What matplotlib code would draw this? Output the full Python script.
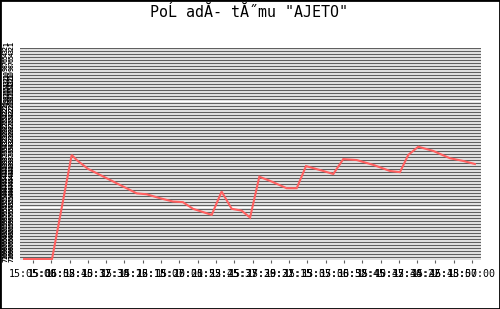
import matplotlib
matplotlib.use("Agg")
import matplotlib.pyplot as plt
from matplotlib.patches import Rectangle
import numpy as np

# data (time of day, rank of team)
TITLE = 'PoĹ adĂ- tĂ˝mu "AJETO"'
times = ["15:04:05", "15:06:57", "15:08:58", "15:09:29", "15:10:38", "15:15:38",
         "15:16:39", "15:18:01", "15:19:21", "15:20:22", "15:21:24", "15:23:19",
         "15:24:20", "15:25:22", "15:26:23", "15:27:15", "15:28:12", "15:29:28",
         "15:31:00", "15:32:02", "15:32:59", "15:34:25", "15:35:47", "15:36:48",
         "15:38:11", "15:39:53", "15:41:35", "15:42:37", "15:43:28", "15:44:30",
         "15:46:02", "15:47:44", "15:49:06", "15:50:18"]
ranks = [70.7, 70.7, 36.3, 38.0, 40.9, 49.0,
         49.3, 50.6, 51.7, 51.9, 54.1, 56.1,
         48.4, 54.1, 54.7, 57.0, 43.5, 45.1,
         47.3, 47.3, 40.0, 41.3, 42.6, 37.7,
         38.0, 39.6, 41.6, 42.0, 36.3, 33.6,
         35.0, 37.4, 38.3, 39.3]
rank_ticks = list(range(1, 72))
x_start, x_end, n_xticks = "15:05:00", "15:50:00", 25


def to_sec(s):
    h, m, sec = (int(v) for v in s.split(":"))
    return h * 3600 + m * 60 + sec


def fmt(t):
    t = int(t)
    return "%02d:%02d:%02d" % (t // 3600, (t % 3600) // 60, t % 60)


t = np.array([to_sec(s) for s in times])
xt = np.linspace(to_sec(x_start), to_sec(x_end), n_xticks)
step = (xt[-1] - xt[0]) / 439.0   # seconds per pixel

fig = plt.figure(figsize=(5.0, 3.09), dpi=100)
ax = fig.add_axes([0.04, 0.1586, 0.922, 0.6861])
ax.set_facecolor("white")

ax.plot(t, ranks, color="#ff6060", lw=1.5, solid_joinstyle="miter", zorder=3)

ax.set_xlim(xt[0] - 13 * step, xt[-1] + 9 * step)
ax.set_ylim(71, 1)

# gnuplot-style: one tick label per rank, rotated, piled on top of each other
ax.set_yticks(rank_ticks)
ax.set_yticklabels(["%d\n%d" % (r, r) for r in rank_ticks], rotation=90,
                   fontsize=4.8, family="DejaVu Sans Mono", weight="bold",
                   linespacing=0.9)
ax.tick_params(axis="y", length=0, pad=4)
ax.grid(axis="y", color="#606060", lw=1.0)

ax.set_xticks(xt)
ax.set_xticklabels([fmt(v) for v in xt], fontsize=7.2, family="DejaVu Sans Mono")
ax.tick_params(axis="x", length=2.5, color="#606060", pad=4)

for s in ax.spines.values():
    s.set_visible(False)

fig.text(0.497, 0.958, TITLE, ha="center", va="center",
         fontsize=10.8, family="DejaVu Sans Mono")
fig.add_artist(Rectangle((0, 0), 1, 1, transform=fig.transFigure, fill=False,
                         lw=2, edgecolor="black", clip_on=False))

fig.savefig("out.png", dpi=100)
